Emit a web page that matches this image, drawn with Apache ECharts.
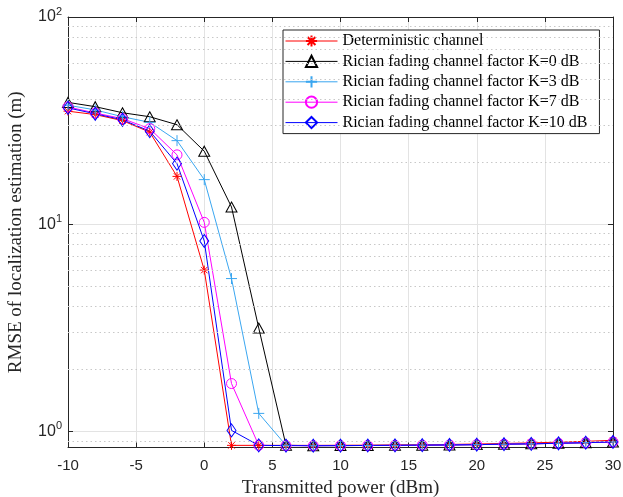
<!DOCTYPE html>
<html>
<head>
<meta charset="utf-8">
<script src="https://cdn.jsdelivr.net/npm/echarts@6/dist/echarts.min.js"></script>
<style>
html,body{margin:0;padding:0;background:#fff;}
#chart{width:623px;height:497px;}
</style>
</head>
<body>
<div id="chart"></div>
<script>
const xValues = [-10, -8, -6, -4, -2, 0, 2, 4, 6, 8, 10, 12, 14, 16, 18, 20, 22, 24, 26, 28, 30];
const deterministic = [35.1, 33.8, 31.6, 27.8, 17.0, 6.0, 0.855, 0.855, 0.855, 0.855, 0.856, 0.857, 0.859, 0.861, 0.864, 0.868, 0.873, 0.879, 0.886, 0.894, 0.905];
const ricianK0 = [38.7, 36.9, 34.5, 33.0, 30.2, 22.5, 12.1, 3.15, 0.855, 0.852, 0.853, 0.854, 0.855, 0.857, 0.859, 0.862, 0.866, 0.870, 0.875, 0.881, 0.888];
const ricianK3 = [37.5, 35.6, 33.0, 31.0, 25.3, 16.4, 5.46, 1.22, 0.855, 0.852, 0.853, 0.854, 0.855, 0.857, 0.859, 0.862, 0.866, 0.870, 0.875, 0.881, 0.888];
const ricianK7 = [36.8, 34.4, 32.3, 28.9, 21.6, 10.2, 1.70, 0.855, 0.853, 0.852, 0.853, 0.854, 0.855, 0.857, 0.859, 0.862, 0.866, 0.870, 0.875, 0.881, 0.888];
const ricianK10 = [36.4, 34.1, 31.9, 28.1, 19.6, 8.29, 1.01, 0.855, 0.853, 0.852, 0.853, 0.854, 0.855, 0.857, 0.859, 0.862, 0.866, 0.870, 0.875, 0.881, 0.888];
const seriesNames = [
  'Deterministic channel',
  'Rician fading channel factor K=0 dB',
  'Rician fading channel factor K=3 dB',
  'Rician fading channel factor K=7 dB',
  'Rician fading channel factor K=10 dB'
];
const minorGridValues = [0.9, 2, 3, 4, 5, 6, 7, 8, 9, 20, 30, 40, 50, 60, 70, 80, 90];
const xTickStep = 5;

const chart = echarts.init(document.getElementById('chart'), null, {renderer: 'canvas'});

const ASTERISK = 'path://M0 -10L0 10M-10 0L10 0M-7.07 -7.07L7.07 7.07M-7.07 7.07L7.07 -7.07';
const PLUS = 'path://M0 -10L0 10M-10 0L10 0';

function pairs(vals) { return xValues.map((x, i) => [x, vals[i]]); }

function mkSeries(name, vals, color, symbol, size) {
  return {
    name: name,
    type: 'line',
    data: pairs(vals),
    symbol: symbol,
    symbolSize: size,
    showSymbol: true,
    z: 3,
    lineStyle: {color: color, width: 1},
    itemStyle: {color: 'rgba(0,0,0,0)', borderColor: color, borderWidth: 1},
    emphasis: {disabled: true},
    animation: false
  };
}

const axisCol = '#262626';
const supFmt = function (v) {
  const l = Math.log10(v);
  if (Math.abs(l - Math.round(l)) < 1e-6) return '{b|10}{s|' + Math.round(l) + '}';
  return '';
};

const option = {
  animation: false,
  grid: {left: 68, right: 10, top: 17, bottom: 49.5, containLabel: false, outerBoundsMode: 'none'},
  legend: {
    data: seriesNames,
    orient: 'vertical',
    left: 283,
    top: 30,
    itemWidth: 52,
    itemHeight: 14,
    itemGap: 4.4,
    padding: [3, 12, 3, 2],
    backgroundColor: '#fff',
    borderColor: axisCol,
    borderWidth: 1,
    lineStyle: {width: 1},
    textStyle: {fontFamily: 'Liberation Serif', fontSize: 16, color: '#000', lineHeight: 14},
    selectedMode: false
  },
  xAxis: [{
    type: 'value', min: -10, max: 30, interval: xTickStep,
    name: 'Transmitted power (dBm)', nameLocation: 'middle', nameGap: 29,
    nameTextStyle: {fontFamily: 'Liberation Serif', fontSize: 19, color: axisCol},
    axisLine: {show: true, lineStyle: {color: axisCol, width: 1}},
    axisTick: {show: true, inside: true, length: 5, lineStyle: {color: axisCol}},
    axisLabel: {fontFamily: 'Liberation Sans', fontSize: 15, color: axisCol, margin: 11},
    splitLine: {show: true, lineStyle: {color: '#e3e3e3', width: 1}}
  }, {
    type: 'value', min: -10, max: 30, interval: xTickStep, position: 'top',
    axisLine: {show: true, onZero: false, lineStyle: {color: axisCol, width: 1}},
    axisTick: {show: true, inside: true, length: 5, lineStyle: {color: axisCol}},
    axisLabel: {show: false}, splitLine: {show: false}
  }],
  yAxis: [{
    type: 'log', logBase: 10, min: 0.835, max: 100,
    name: 'RMSE of localization estimation (m)', nameLocation: 'middle', nameGap: 42,
    nameTextStyle: {fontFamily: 'Liberation Serif', fontSize: 19, color: axisCol},
    axisLine: {show: true, onZero: false, lineStyle: {color: axisCol, width: 1}},
    axisTick: {show: true, inside: true, length: 5, lineStyle: {color: axisCol}},
    axisLabel: {
      formatter: supFmt, margin: 6,
      rich: {
        b: {fontFamily: 'Liberation Sans', fontSize: 16, color: axisCol},
        s: {fontFamily: 'Liberation Sans', fontSize: 11, color: axisCol, padding: [0, 0, 10, 0]}
      }
    },
    splitLine: {show: true, lineStyle: {color: '#e3e3e3', width: 1}}
  }, {
    type: 'log', logBase: 10, min: 0.835, max: 100, position: 'right',
    axisLine: {show: true, onZero: false, lineStyle: {color: axisCol, width: 1}},
    axisTick: {show: true, inside: true, length: 5, lineStyle: {color: axisCol}},
    axisLabel: {show: false}, splitLine: {show: false}
  }],
  series: [
    {
      type: 'line', data: [], z: 1, silent: true, animation: false,
      markLine: {
        silent: true, symbol: 'none', animation: false,
        label: {show: false},
        lineStyle: {color: '#c8c8c8', type: [1.5, 3], width: 1},
        emphasis: {disabled: true},
        data: minorGridValues.map(v => ({yAxis: v}))
      }
    },
    mkSeries(seriesNames[0], deterministic, '#ff0000', ASTERISK, 9),
    mkSeries(seriesNames[1], ricianK0, '#000000', 'triangle', [11, 10]),
    mkSeries(seriesNames[2], ricianK3, '#3aa6f0', PLUS, 11),
    mkSeries(seriesNames[3], ricianK7, '#ff00ff', 'circle', 10),
    mkSeries(seriesNames[4], ricianK10, '#0000ff', 'diamond', [9, 13])
  ]
};
chart.setOption(option);
</script>
</body>
</html>
